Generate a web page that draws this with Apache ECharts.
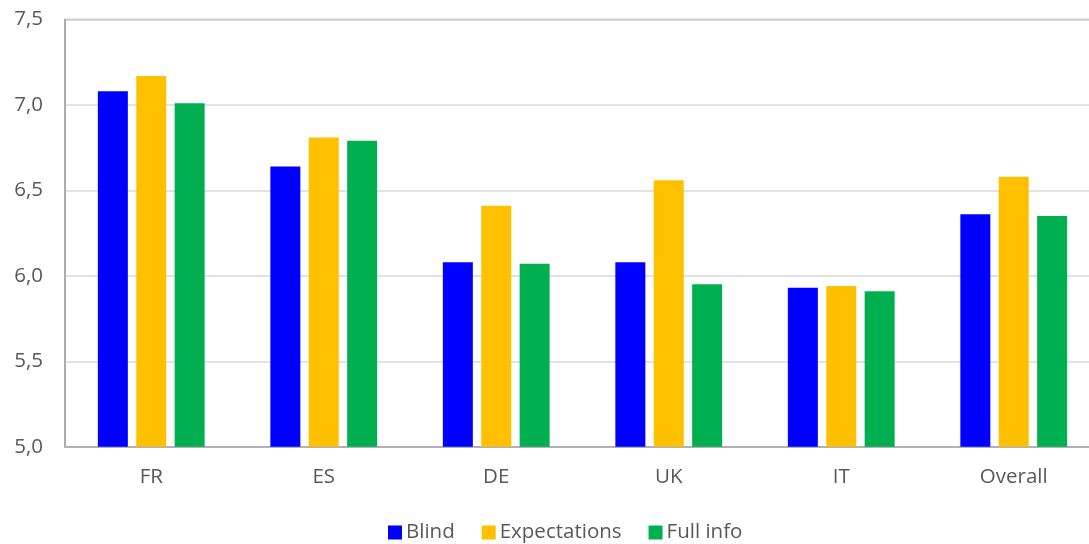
<!DOCTYPE html>
<html>
<head>
<meta charset="utf-8">
<script src="https://cdn.jsdelivr.net/npm/echarts@6/dist/echarts.min.js"></script>
<style>
  html, body { margin: 0; padding: 0; background: #ffffff; overflow: hidden; }
  #chart { width: 1100px; height: 544px; }
</style>
</head>
<body>
<div id="chart"></div>
<script>
// Country groups and the three scoring conditions
const categories = ['FR', 'ES', 'DE', 'UK', 'IT', 'Overall'];
const blind = [7.08, 6.64, 6.08, 6.08, 5.93, 6.36];
const expectations = [7.17, 6.81, 6.41, 6.56, 5.94, 6.58];
const fullInfo = [7.01, 6.79, 6.07, 5.95, 5.91, 6.35];
const seriesNames = ['Blind', 'Expectations', 'Full info'];
const seriesColors = ['#0000FF', '#FFC000', '#00B050'];

const FONT = '"Open Sans", sans-serif';
const TEXT = '#595959';
const FS = 20.5;

const chart = echarts.init(document.getElementById('chart'), null, { renderer: 'canvas' });

const makeBar = (name, data, color) => ({
  name: name,
  type: 'bar',
  data: data,
  barWidth: 30,
  barGap: '28%',
  itemStyle: { color: color },
  emphasis: { disabled: true }
});

chart.setOption({
  animation: false,
  textStyle: { fontFamily: FONT },
  grid: {
    left: 65, right: 0, top: 19.5, bottom: 97.3,
    show: true, borderColor: '#a6a6a6', borderWidth: 1.5
  },
  legend: {
    bottom: -4,
    left: 383,
    itemWidth: 14,
    itemHeight: 14,
    itemGap: 27,
    icon: 'rect',
    textStyle: { fontFamily: FONT, fontSize: FS, color: TEXT, padding: [0, 0, 0, -1] },
    data: seriesNames
  },
  xAxis: {
    type: 'category',
    data: categories,
    axisLine: { lineStyle: { color: '#a6a6a6', width: 1.5 } },
    axisTick: { show: false },
    axisLabel: { fontFamily: FONT, fontSize: FS, color: TEXT, margin: 20 }
  },
  yAxis: {
    type: 'value',
    min: 5,
    max: 7.5,
    interval: 0.5,
    axisLine: { show: true, lineStyle: { color: '#a6a6a6', width: 1.5 } },
    axisTick: { show: false },
    splitLine: { lineStyle: { color: '#d9d9d9', width: 1.5 } },
    axisLabel: {
      fontFamily: FONT, fontSize: FS, color: TEXT, margin: 22,
      formatter: v => v.toFixed(1).replace('.', ',')
    }
  },
  series: [
    makeBar(seriesNames[0], blind, seriesColors[0]),
    makeBar(seriesNames[1], expectations, seriesColors[1]),
    makeBar(seriesNames[2], fullInfo, seriesColors[2])
  ]
});
</script>
</body>
</html>
